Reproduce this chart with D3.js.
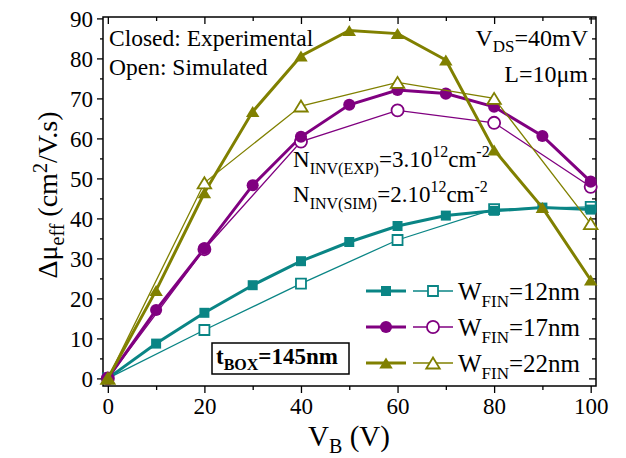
<!DOCTYPE html>
<html>
<head>
<meta charset="utf-8">
<script src="https://cdn.jsdelivr.net/npm/d3@7/dist/d3.min.js"></script>
<style>
  body { margin: 0; background: #fff; }
  svg text { font-family: "Liberation Serif", "Times New Roman", serif; fill: #000; }
</style>
</head>
<body>
<svg id="chart" width="626" height="458"></svg>
<script>
// data
const vbExp = [0, 10, 20, 30, 40, 50, 60, 70, 80, 90, 100];
const vbSim = [0, 20, 40, 60, 80, 100];

const exp12 = [0, 8.7, 16.4, 23.3, 29.3, 34.1, 38.1, 40.7, 41.9, 42.7, 42.2];
const sim12 = [0, 12.1, 23.7, 34.6, 42.3, 42.9];
const exp17 = [0, 17.1, 32.5, 48.3, 60.4, 68.4, 72.1, 71.2, 67.9, 60.6, 49.2];
const sim17 = [0, 32.3, 59.2, 67.0, 63.9, 47.9];
const exp22 = [0, 22.0, 46.4, 66.7, 80.6, 87.0, 86.2, 79.6, 57.1, 42.7, 24.6];
const sim22 = [0, 48.9, 68.1, 74.0, 70.0, 38.7];

const seriesNames = ["12nm", "17nm", "22nm"];
const xTicks = [0, 20, 40, 60, 80, 100];
const yTicks = [0, 10, 20, 30, 40, 50, 60, 70, 80, 90];

const svg = d3.select("#chart");
const pLeft = 103, pRight = 596, pTop = 17, pBottom = 386;

const x = d3.scaleLinear().domain([-1, 101.1]).range([pLeft, pRight]);
const y = d3.scaleLinear().domain([-1.9, 90.35]).range([pBottom, pTop]);

// triangle centred on its bounding box
const tri = {
    draw(ctx, size) {
        const s = Math.sqrt(size);
        const h = s * 0.9;
        ctx.moveTo(0, -h / 2);
        ctx.lineTo(s / 2 * 1.1, h / 2);
        ctx.lineTo(-s / 2 * 1.1, h / 2);
        ctx.closePath();
    }
};

const styles = [
    { color: "#0a8585", shape: d3.symbolSquare, size: 100 },
    { color: "#800080", shape: d3.symbolCircle, size: 115 },
    { color: "#808000", shape: tri, size: 150 }
];

// axes
const minorX = d3.range(0, 101, 10).filter(v => v % 20 !== 0);
const minorY = d3.range(0, 91, 5).filter(v => v % 10 !== 0);

function addAxis(axis, values, size, transform, labels) {
    const g = svg.append("g")
        .attr("transform", transform)
        .call(axis.tickValues(values).tickSize(size).tickPadding(4));
    g.select(".domain").remove();
    g.selectAll("line").attr("stroke", "#000").attr("stroke-width", 1.3);
    if (!labels) g.selectAll("text").remove();
    return g;
}

const bx = addAxis(d3.axisBottom(x), xTicks, 7, `translate(0,${pBottom})`, true);
addAxis(d3.axisBottom(x), minorX, 4, `translate(0,${pBottom})`, false);
addAxis(d3.axisTop(x), xTicks, -7, `translate(0,${pTop})`, false);
addAxis(d3.axisTop(x), minorX, -4, `translate(0,${pTop})`, false);
const ly = addAxis(d3.axisLeft(y), yTicks, 6, `translate(${pLeft},0)`, true);
addAxis(d3.axisLeft(y), minorY, 3, `translate(${pLeft},0)`, false);
addAxis(d3.axisRight(y), yTicks, -7, `translate(${pRight},0)`, false);
addAxis(d3.axisRight(y), minorY, -4, `translate(${pRight},0)`, false);

bx.selectAll("text").attr("font-size", 23).attr("dy", "0.75em");
ly.selectAll("text").attr("font-size", 23).attr("dy", "0.34em");

svg.append("rect")
    .attr("x", pLeft).attr("y", pTop)
    .attr("width", pRight - pLeft).attr("height", pBottom - pTop)
    .attr("fill", "none").attr("stroke", "#000").attr("stroke-width", 1.5);

// series
const expSets = [exp12, exp17, exp22];
const simSets = [sim12, sim17, sim22];
const line = d3.line().x(d => x(d[0])).y(d => y(d[1]));

expSets.forEach((vals, i) => {
    const st = styles[i];
    const sim = vbSim.map((v, j) => [v, simSets[i][j]]);
    const exp = vbExp.map((v, j) => [v, vals[j]]);

    svg.append("path").datum(sim).attr("d", line)
        .attr("fill", "none").attr("stroke", st.color).attr("stroke-width", 1.3);
    svg.append("path").datum(exp).attr("d", line)
        .attr("fill", "none").attr("stroke", st.color).attr("stroke-width", 3);

    svg.selectAll(null).data(sim).enter().append("path")
        .attr("d", d3.symbol().type(st.shape).size(st.size))
        .attr("transform", d => `translate(${x(d[0])},${y(d[1])})`)
        .attr("fill", "#fff").attr("stroke", st.color).attr("stroke-width", 1.8);
    svg.selectAll(null).data(exp).enter().append("path")
        .attr("d", d3.symbol().type(st.shape).size(st.size))
        .attr("transform", d => `translate(${x(d[0])},${y(d[1])})`)
        .attr("fill", st.color);
});

// legend
seriesNames.forEach((name, i) => {
    const st = styles[i];
    const ly0 = 291 + i * 36;
    const g = svg.append("g");
    g.append("line").attr("x1", 366).attr("x2", 406).attr("y1", ly0).attr("y2", ly0)
        .attr("stroke", st.color).attr("stroke-width", 3);
    g.append("path").attr("d", d3.symbol().type(st.shape).size(st.size)())
        .attr("transform", `translate(386,${ly0})`).attr("fill", st.color);
    g.append("line").attr("x1", 413).attr("x2", 453).attr("y1", ly0).attr("y2", ly0)
        .attr("stroke", st.color).attr("stroke-width", 1.3);
    g.append("path").attr("d", d3.symbol().type(st.shape).size(st.size)())
        .attr("transform", `translate(433,${ly0})`)
        .attr("fill", "#fff").attr("stroke", st.color).attr("stroke-width", 1.8);
    const t = g.append("text").attr("x", 458).attr("y", ly0 + 9).attr("font-size", 25);
    t.append("tspan").text("W");
    t.append("tspan").attr("font-size", 17).attr("dy", 7).text("FIN");
    t.append("tspan").attr("dy", -7).text("=" + name);
});

// annotations
svg.append("text").attr("x", 109).attr("y", 46).attr("font-size", 23.5).text("Closed: Experimental");
svg.append("text").attr("x", 109).attr("y", 75).attr("font-size", 23.5).text("Open: Simulated");

const vds = svg.append("text").attr("x", 588).attr("y", 46).attr("font-size", 24).attr("text-anchor", "end");
vds.append("tspan").text("V");
vds.append("tspan").attr("font-size", 17).attr("dy", 6).text("DS");
vds.append("tspan").attr("dy", -6).text("=40mV");
svg.append("text").attr("x", 588).attr("y", 82).attr("font-size", 24).attr("text-anchor", "end").text("L=10\u03bcm");

function nInv(label, val, yy) {
    const t = svg.append("text").attr("x", 293).attr("y", yy).attr("font-size", 23);
    t.append("tspan").text("N");
    t.append("tspan").attr("font-size", 16).attr("dy", 7).text("INV(" + label + ")");
    t.append("tspan").attr("dy", -7).text("=" + val + ".10");
    t.append("tspan").attr("font-size", 16).attr("dy", -10).text("12");
    t.append("tspan").attr("dy", 10).text("cm");
    t.append("tspan").attr("font-size", 16).attr("dy", -10).text("-2");
}
nInv("EXP", 3, 167);
nInv("SIM", 2, 202);

// t_BOX box
svg.append("rect").attr("x", 212).attr("y", 343).attr("width", 137).attr("height", 31)
    .attr("fill", "#fff").attr("stroke", "#000").attr("stroke-width", 1.5);
const tb = svg.append("text").attr("x", 216).attr("y", 364).attr("font-size", 23).attr("font-weight", "bold");
tb.append("tspan").text("t");
tb.append("tspan").attr("font-size", 16).attr("dy", 6).text("BOX");
tb.append("tspan").attr("dy", -6).text("=145nm");

// axis titles
const xt = svg.append("text").attr("x", 349).attr("y", 446).attr("font-size", 29).attr("text-anchor", "middle");
xt.append("tspan").text("V");
xt.append("tspan").attr("font-size", 20).attr("dy", 7).text("B");
xt.append("tspan").attr("dy", -7).text(" (V)");

const yt = svg.append("text").attr("transform", "translate(57,195) rotate(-90)")
    .attr("font-size", 28).attr("text-anchor", "middle");
yt.append("tspan").text("\u0394\u03bc");
yt.append("tspan").attr("font-size", 20).attr("dy", 7).text("eff");
yt.append("tspan").attr("dy", -7).text(" (cm");
yt.append("tspan").attr("font-size", 20).attr("dy", -10).text("2");
yt.append("tspan").attr("dy", 10).text("/V.s)");
</script>
</body>
</html>
